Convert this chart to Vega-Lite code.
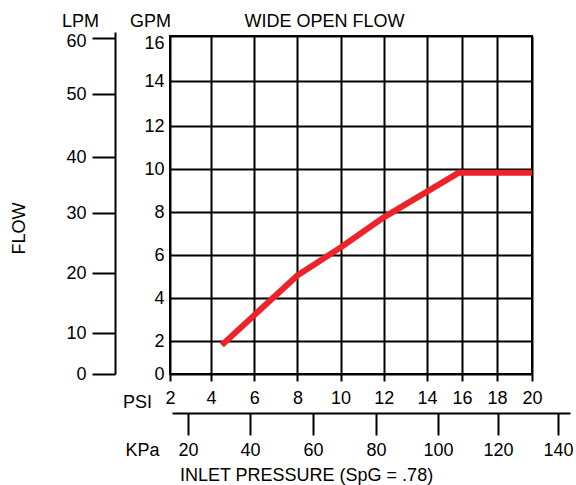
{
  "$schema": "https://vega.github.io/schema/vega-lite/v6.json",
  "width": 362,
  "height": 338,
  "autosize": {"type": "none"},
  "padding": {"left": 170, "top": 36, "right": 44, "bottom": 111},
  "background": "white",
  "config": {
    "font": "Liberation Sans",
    "view": {"stroke": "black", "strokeWidth": 2},
    "axis": {
      "labelFont": "Liberation Sans",
      "titleFont": "Liberation Sans",
      "labelFontSize": 18,
      "titleFontSize": 18,
      "labelColor": "black",
      "titleColor": "black",
      "titleFontWeight": "normal",
      "labelOverlap": false,
      "labelFlush": false,
      "domainColor": "black",
      "tickColor": "black",
      "gridColor": "black",
      "gridOpacity": 1,
      "gridWidth": 2,
      "domainWidth": 2,
      "tickWidth": 2
    }
  },
  "datasets": {
    "curve": [
      {"psi": 4.5, "gpm": 1.75},
      {"psi": 8, "gpm": 5.05},
      {"psi": 10, "gpm": 6.35},
      {"psi": 12, "gpm": 7.75},
      {"psi": 14, "gpm": 8.95},
      {"psi": 15.8, "gpm": 9.82},
      {"psi": 20, "gpm": 9.82}
    ],
    "lpm": [
      {"lpm": 0}, {"lpm": 10}, {"lpm": 20}, {"lpm": 30}, {"lpm": 40}, {"lpm": 50}, {"lpm": 60}
    ],
    "kpa": [
      {"kpa": 20}, {"kpa": 40}, {"kpa": 60}, {"kpa": 80}, {"kpa": 100}, {"kpa": 120}, {"kpa": 140}
    ]
  },
  "layer": [
    {
      "data": {"name": "curve"},
      "mark": {"type": "line", "color": "#EE2229", "strokeWidth": 6, "strokeCap": "butt"},
      "encoding": {
        "x": {
          "field": "psi", "type": "quantitative",
          "scale": {"domain": [2, 4, 14, 20], "range": [0, 41, 257, 362]},
          "axis": {
            "orient": "bottom", "values": [2, 4, 6, 8, 10, 12, 14, 16, 18, 20],
            "grid": true, "domain": false, "tickSize": 7, "labelPadding": 8,
            "title": "PSI", "titleAngle": 0, "titleAlign": "center", "titleBaseline": "alphabetic",
            "titleX": -33, "titleY": 33
          }
        },
        "y": {
          "field": "gpm", "type": "quantitative",
          "scale": {"domain": [0, 2, 12, 16], "range": [338, 305, 90, 0]},
          "axis": {
            "orient": "left", "values": [0, 2, 4, 6, 8, 10, 12, 14, 16],
            "grid": true, "domain": false, "tickSize": 0, "labelPadding": 6,
            "labelOffset": {"expr": "datum.value == 16 ? 7 : 0"},
            "title": "GPM", "titleAngle": 0, "titleAlign": "center", "titleBaseline": "alphabetic",
            "titleX": -20, "titleY": -10
          }
        }
      }
    },
    {
      "data": {"name": "lpm"},
      "mark": {"type": "point", "opacity": 0},
      "encoding": {
        "y": {
          "field": "lpm", "type": "quantitative",
          "scale": {"domain": [0, 10, 20, 30, 40, 50, 60, 62], "range": [338, 297, 237, 177, 121, 58, 2, -4]},
          "axis": {
            "orient": "left", "offset": 55, "values": [0, 10, 20, 30, 40, 50, 60],
            "grid": false, "domain": true, "tickSize": 23, "labelPadding": 6,
            "labelOffset": {"expr": "datum.value == 60 ? 3 : 0"},
            "title": "LPM", "titleAngle": 0, "titleAlign": "center", "titleBaseline": "alphabetic",
            "titleX": -35, "titleY": -10
          }
        },
        "x": {
          "field": "lpm", "type": "quantitative",
          "axis": {
            "orient": "top", "grid": false, "domain": false, "ticks": false, "labels": false,
            "title": "WIDE OPEN FLOW", "titleAngle": 0, "titleAlign": "center", "titleBaseline": "alphabetic",
            "titleX": 154, "titleY": -10
          }
        }
      }
    },
    {
      "data": {"name": "kpa"},
      "mark": {"type": "point", "opacity": 0},
      "encoding": {
        "x": {
          "field": "kpa", "type": "quantitative",
          "scale": {"domain": [15, 20, 40, 60, 80, 100, 120, 140, 144], "range": [2, 18, 80, 143, 206, 268, 328, 388, 400]},
          "axis": {
            "orient": "bottom", "offset": 39, "values": [20, 40, 60, 80, 100, 120, 140],
            "grid": false, "domain": true, "tickSize": 22, "labelPadding": 6,
            "title": "KPa", "titleAngle": 0, "titleAlign": "center", "titleBaseline": "alphabetic",
            "titleX": -28, "titleY": 42
          }
        },
        "y": {
          "field": "kpa", "type": "quantitative",
          "axis": {
            "orient": "left", "grid": false, "domain": false, "ticks": false, "labels": false,
            "title": "FLOW", "titleAngle": 270, "titleAlign": "center", "titleBaseline": "middle",
            "titleX": -151, "titleY": 192
          }
        }
      }
    },
    {
      "data": {"name": "kpa"},
      "mark": {"type": "point", "opacity": 0},
      "encoding": {
        "x": {
          "field": "kpa", "type": "quantitative",
          "axis": {
            "orient": "bottom", "grid": false, "domain": false, "ticks": false, "labels": false,
            "title": "INLET PRESSURE (SpG = .78)", "titleAngle": 0, "titleAlign": "center", "titleBaseline": "alphabetic",
            "titleX": 136, "titleY": 106
          }
        }
      }
    }
  ],
  "resolve": {"scale": {"x": "independent", "y": "independent"}}
}
